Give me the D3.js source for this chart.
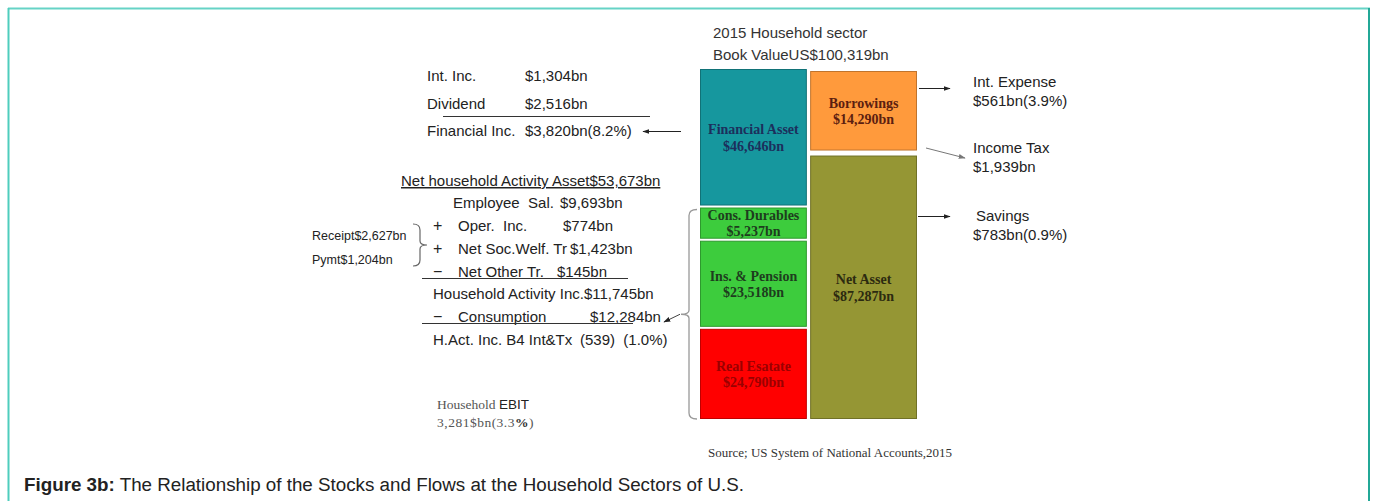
<!DOCTYPE html>
<html>
<head>
<meta charset="utf-8">
<script src="https://cdn.jsdelivr.net/npm/d3@7"></script>
<style>
  body { margin: 0; background: #fff; }
  svg text { font-family: "Liberation Sans", Arial, sans-serif; fill: #222; font-size: 15px; white-space: pre; }
</style>
</head>
<body>
<script>
// stocks (balance sheet boxes)
const assetNames = ["Financial Asset", "Cons. Durables", "Ins. & Pension", "Real Esatate"];
const assetValues = [46646, 5237, 23518, 24790];
const claimNames = ["Borrowings", "Net Asset"];
const claimValues = [14290, 87287];
const bookValue = 100319;

// flows on the left
const finLabels = ["Int. Inc.", "Dividend", "Financial Inc."];
const finValues = ["$1,304bn", "$2,516bn", "$3,820bn(8.2%)"];
const activityAsset = 53673;
const actSigns = ["", "+", "+", "\u2212", "", "\u2212", ""];
const actLabels = ["Employee  Sal.", "Oper.  Inc.", "Net Soc.Welf. Tr", "Net Other Tr.", "Household Activity Inc.$11,745bn", "Consumption", "H.Act. Inc. B4 Int&Tx"];
const actValues = ["$9,693bn", "$774bn", "$1,423bn", "$145bn", "", "$12,284bn", "(539)  (1.0%)"];
const welfLabels = ["Receipt$2,627bn", "Pymt$1,204bn"];

// flows on the right
const outLabels = ["Int. Expense", "Income Tax", "Savings"];
const outValues = ["$561bn(3.9%)", "$1,939bn", "$783bn(0.9%)"];

const W = 1375, H = 501;
const fmt = d3.format(",");

const svg = d3.select("body").append("svg")
  .attr("width", W)
  .attr("height", H);

// arrow heads
const defs = svg.append("defs");
["#222", "#777"].forEach((c, i) => {
  defs.append("marker")
    .attr("id", "ah" + i)
    .attr("viewBox", "0 0 10 10")
    .attr("refX", 9).attr("refY", 5)
    .attr("markerWidth", 7).attr("markerHeight", 7)
    .attr("orient", "auto")
    .append("path")
    .attr("d", "M0,1.5 L10,5 L0,8.5 Z")
    .attr("fill", c);
});

// frame
svg.append("line").attr("x1", 8).attr("x2", 1370).attr("y1", 8.5).attr("y2", 8.5)
  .attr("stroke", "#66d3c6").attr("stroke-width", 2);
svg.append("line").attr("x1", 8.5).attr("x2", 8.5).attr("y1", 8).attr("y2", H)
  .attr("stroke", "#4fcdbd").attr("stroke-width", 2);
svg.append("line").attr("x1", 1369).attr("x2", 1369).attr("y1", 8).attr("y2", H)
  .attr("stroke", "#23a897").attr("stroke-width", 2);

// --- boxes ---
const x = d3.scaleBand().domain(["assets", "claims"]).range([700, 917]).paddingInner(0.03);
// heights follow a power scale of the values (the original is not drawn to linear scale)
const size = d3.scalePow().exponent(0.65).domain([0, d3.max(claimValues)]).range([0, 1]);

function stackCol(names, values, col, fills, textFills, top, gap) {
  let acc = 0;
  const rows = values.map((v, i) => {
    const s = size(v);
    const r = { name: names[i], value: v, a: acc, b: acc + s, fill: fills[i], tf: textFills[i] };
    acc += s;
    return r;
  });
  const y = d3.scaleLinear().domain([0, acc]).range([top, 419]);
  rows.forEach((r, i) => {
    r.y0 = y(r.a) + (i > 0 ? gap : 0);
    r.y1 = y(r.b) - (i < rows.length - 1 ? gap : 0);
  });
  const g = svg.append("g");
  g.selectAll("rect").data(rows).enter().append("rect")
    .attr("x", x(col) + 0.5)
    .attr("y", d => d.y0 + 0.5)
    .attr("width", x.bandwidth() - 1)
    .attr("height", d => d.y1 - d.y0 - 1)
    .attr("fill", d => d.fill)
    .attr("stroke", d => d3.color(d.fill).darker(0.8))
    .attr("stroke-width", 1);
  const t = g.selectAll("text").data(rows).enter().append("text")
    .attr("x", x(col) + x.bandwidth() / 2)
    .attr("y", d => (d.y0 + d.y1) / 2)
    .attr("text-anchor", "middle")
    .style("font-family", "'Liberation Serif', 'Times New Roman', serif")
    .style("font-weight", "bold")
    .style("font-size", "14px")
    .style("fill", d => d.tf);
  t.append("tspan").attr("x", x(col) + x.bandwidth() / 2).attr("dy", "-0.2em").text(d => d.name);
  t.append("tspan").attr("x", x(col) + x.bandwidth() / 2).attr("dy", "1.15em").text(d => "$" + fmt(d.value) + "bn");
  return rows;
}

const assets = stackCol(assetNames, assetValues, "assets",
  ["#16979e", "#3dcc3d", "#3dcc3d", "#ff0000"],
  ["#1c2f5c", "#1e3d1e", "#1e3d1e", "#9a0000"], 69, 1);
const claims = stackCol(claimNames, claimValues, "claims",
  ["#ff9a3c", "#959634"],
  ["#5c1e10", "#2c2a10"], 71, 2.5);

// title
svg.append("text").attr("x", 713).attr("y", 38).style("fill", "#333")
  .text("2015 Household sector");
svg.append("text").attr("x", 713).attr("y", 60).style("fill", "#333")
  .text("Book ValueUS$" + fmt(bookValue) + "bn");

// --- financial income block ---
const finY = d3.scalePoint().domain(d3.range(finLabels.length)).range([81, 136]);
svg.selectAll(".finL").data(finLabels).enter().append("text")
  .attr("x", 427).attr("y", (d, i) => finY(i)).text(d => d);
svg.selectAll(".finV").data(finValues).enter().append("text")
  .attr("x", 525).attr("y", (d, i) => finY(i)).text(d => d);
svg.append("line").attr("x1", 443).attr("x2", 650).attr("y1", 116.5).attr("y2", 116.5)
  .attr("stroke", "#333");
svg.append("line").attr("x1", x("assets") - 19).attr("x2", 643).attr("y1", 131.5).attr("y2", 131.5)
  .attr("stroke", "#222").attr("marker-end", "url(#ah0)");

// net household activity asset
svg.append("text").attr("x", 401).attr("y", 186)
  .style("text-decoration", "underline")
  .text("Net household Activity Asset$" + fmt(activityAsset) + "bn");

// activity income block
const actY = d3.scalePoint().domain(d3.range(actLabels.length)).range([208, 345]);
const labelX = [453, 458, 458, 458, 433, 458, 433];
const valueX = [560, 563, 570, 557, 0, 590, 580];
svg.selectAll(".actS").data(actSigns).enter().append("text")
  .attr("x", 433).attr("y", (d, i) => actY(i)).style("font-size", "16px").text(d => d);
svg.selectAll(".actL").data(actLabels).enter().append("text")
  .attr("x", (d, i) => labelX[i]).attr("y", (d, i) => actY(i)).text(d => d);
svg.selectAll(".actV").data(actValues).enter().append("text")
  .attr("x", (d, i) => valueX[i]).attr("y", (d, i) => actY(i)).text(d => d);
svg.append("line").attr("x1", 422).attr("x2", 628).attr("y1", 278.5).attr("y2", 278.5).attr("stroke", "#333");
svg.append("line").attr("x1", 422).attr("x2", 633).attr("y1", 323.5).attr("y2", 323.5).attr("stroke", "#333");

// welfare receipts / payments with brace
svg.selectAll(".welf").data(welfLabels).enter().append("text")
  .attr("x", 312).attr("y", (d, i) => 240 + i * 24).style("font-size", "12.5px").text(d => d);

function braceRight(xl, xs, xt, y0, y1) {
  const ym = (y0 + y1) / 2;
  return `M${xl},${y0} Q${xs},${y0} ${xs},${y0 + 6} L${xs},${ym - 4} Q${xs},${ym} ${xt},${ym}` +
         ` Q${xs},${ym} ${xs},${ym + 4} L${xs},${y1 - 6} Q${xs},${y1} ${xl},${y1}`;
}
svg.append("path").attr("d", braceRight(413, 420, 427, 224, 266))
  .attr("fill", "none").attr("stroke", "#666").attr("stroke-width", 1.2);

// big brace around the non-financial assets
const bTop = assets[1].y0 + 2, bBot = assets[3].y1;
svg.append("path").attr("d", braceRight(x("assets") - 3, x("assets") - 11, x("assets") - 19, bTop, bBot))
  .attr("fill", "none").attr("stroke", "#999").attr("stroke-width", 1.3);
svg.append("line").attr("x1", x("assets") - 20).attr("y1", (bTop + bBot) / 2)
  .attr("x2", 664).attr("y2", 322)
  .attr("stroke", "#444").attr("marker-end", "url(#ah0)");

// --- outflows on the right ---
const rx = x("claims") + x.bandwidth();
const outY = [88, 154, 222];
svg.selectAll(".outL").data(outLabels).enter().append("text")
  .attr("x", (d, i) => i === 2 ? 976 : 973).attr("y", (d, i) => outY[i] - 1).text(d => d);
svg.selectAll(".outV").data(outValues).enter().append("text")
  .attr("x", 973).attr("y", (d, i) => outY[i] + 18).text(d => d);
svg.append("line").attr("x1", rx + 2).attr("x2", 950).attr("y1", 88.5).attr("y2", 88.5)
  .attr("stroke", "#222").attr("marker-end", "url(#ah0)");
svg.append("line").attr("x1", rx + 9).attr("x2", 965).attr("y1", 148).attr("y2", 158)
  .attr("stroke", "#777").attr("marker-end", "url(#ah1)");
svg.append("line").attr("x1", rx + 1).attr("x2", 950).attr("y1", 216.5).attr("y2", 216.5)
  .attr("stroke", "#222").attr("marker-end", "url(#ah0)");

// household EBIT
const ebit = svg.append("text").attr("x", 437).attr("y", 409)
  .style("font-family", "'Liberation Serif', serif").style("font-size", "13.5px").style("fill", "#555");
ebit.append("tspan").text("Household ");
ebit.append("tspan").style("font-family", "'Liberation Sans', Arial, sans-serif").style("fill", "#222").text("EBIT");
const ebit2 = svg.append("text").attr("x", 437).attr("y", 427)
  .style("font-family", "'Liberation Serif', serif").style("font-size", "13.5px").style("fill", "#555")
  .style("letter-spacing", "0.5px");
ebit2.append("tspan").text("3,281$bn(3.3");
ebit2.append("tspan").style("font-weight", "bold").style("fill", "#333").text("%");
ebit2.append("tspan").text(")");

// source
svg.append("text").attr("x", 708).attr("y", 457)
  .style("font-family", "'Liberation Serif', serif").style("font-size", "13px").style("fill", "#333")
  .text("Source; US System of National Accounts,2015");

// caption
const cap = svg.append("text").attr("x", 24).attr("y", 491).style("font-size", "18.8px").style("fill", "#222");
cap.append("tspan").style("font-weight", "bold").text("Figure 3b:");
cap.append("tspan").text(" The Relationship of the Stocks and Flows at the Household Sectors of U.S.");
</script>
</body>
</html>
